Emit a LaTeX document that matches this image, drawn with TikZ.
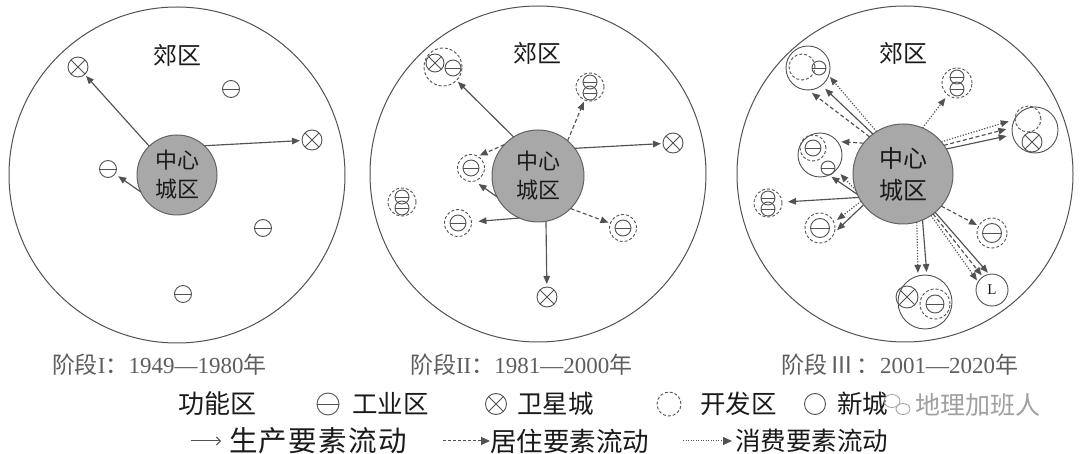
\documentclass[tikz,border=0pt]{standalone}
\usepackage{fontspec}
\setmainfont{Noto Sans CJK SC}
\newfontfamily\serifnum{Liberation Serif}
\usetikzlibrary{arrows.meta,shapes.geometric}
\definecolor{lc}{HTML}{525252}
\definecolor{cfill}{HTML}{A8A8A8}
\definecolor{capc}{HTML}{5E5E5E}
\definecolor{wm}{HTML}{A0A0A0}
\definecolor{txt}{HTML}{1A1A1A}
\newcommand{\lgap}{\kern1.5pt}
\begin{document}
\begin{tikzpicture}[x=1pt,y=-1pt,
  every node/.style={inner sep=0pt,outer sep=0pt,text=txt},
  bigring/.style={circle,draw=lc,line width=1pt,minimum size=336pt},
  cc/.style={circle,draw=lc!90,fill=cfill,line width=1pt,minimum size=#1,align=center},
  ind/.style={circle,draw=lc,line width=0.9pt,minimum size=#1,path picture={\draw[lc,line width=0.9pt] (path picture bounding box.west) -- (path picture bounding box.east);}},
  ind/.default=17pt,
  sat/.style={circle,draw=lc,line width=0.9pt,minimum size=#1,path picture={\draw[lc,line width=0.9pt] (path picture bounding box.north west) -- (path picture bounding box.south east) (path picture bounding box.north east) -- (path picture bounding box.south west);}},
  sat/.default=20pt,
  devz/.style={circle,draw=lc,line width=0.9pt,dash pattern=on 3pt off 2pt,minimum size=#1},
  newt/.style={circle,draw=lc,line width=0.9pt,minimum size=#1},
  flw/.style={draw=lc,line width=1.15pt,-{Triangle[length=8pt,width=6.5pt]},shorten >=2pt},
  prodflow/.style={flw},
  resflow/.style={flw,dash pattern=on 4pt off 2.5pt},
  consflow/.style={flw,dash pattern=on 1.2pt off 1.6pt},
  ctrtxt/.style={font=\fontsize{22}{29}\selectfont},
  subtxt/.style={font=\fontsize{24}{24}\selectfont},
  captxt/.style={anchor=west,text=capc,font=\fontsize{23}{23}\selectfont},
  legtxt/.style={anchor=west,font=\fontsize{25.5}{25.5}\selectfont}
]
\useasboundingbox[fill=white] (0,0) rectangle (1080,454);

% ---------------- Panel 1
\node[bigring] (B1) at (177,175) {};
\node[subtxt] (T1) at (177,55) {郊区};
\node[cc=80pt,ctrtxt] (c1) at (177,175) {中心\\城区};
\node[sat] (p1a) at (78,67) {};
\node[ind] (p1b) at (231,89) {};
\node[sat] (p1c) at (312,140) {};
\node[ind] (p1d) at (108,169) {};
\node[ind] (p1e) at (263,228) {};
\node[ind] (p1f) at (183,294) {};
\draw[prodflow] (c1.134) -- (p1a);
\draw[prodflow] (c1.47) -- (p1c);
\draw[prodflow,shorten >=4pt] (c1.205) -- (p1d);

% ---------------- Panel 2
\node[bigring] (B2) at (538,174) {};
\node[subtxt] (T2) at (537,53) {郊区};
\node[cc=92pt,ctrtxt] (c2) at (538,176) {中心\\城区};
\node[devz=38pt] (g2a) at (443,67) {};
\node[sat=18pt] (g2a1) at (435,63) {};
\node[ind=16pt] (g2a2) at (453,68) {};
\node[devz=28pt] (g2b) at (590,87) {};
\node[ind=14pt] (g2b1) at (590,82) {};
\node[ind=14pt] (g2b2) at (590,93) {};
\node[sat] (g2c) at (673,143) {};
\node[devz=27pt] (g2d) at (471,168) {};
\node[ind=16pt] (g2d1) at (471,168) {};
\node[devz=28pt] (g2e) at (402,202) {};
\node[ind=14pt] (g2e1) at (402,197) {};
\node[ind=14pt] (g2e2) at (402,208) {};
\node[devz=27pt] (g2f) at (458,223) {};
\node[ind=16pt] (g2f1) at (458,223) {};
\node[devz=27pt] (g2g) at (623,228) {};
\node[ind=16pt] (g2g1) at (623,228) {};
\node[sat] (g2h) at (547,297) {};
\draw[prodflow] (c2.122) -- (g2a);
\draw[resflow] (c2.50) -- (g2b);
\draw[prodflow] (c2.37) -- (g2c);
\draw[resflow] (c2.137) -- (g2d.60);
\draw[prodflow,shorten >=5pt] (c2.207) -- (g2d.-75);
\draw[prodflow,shorten >=7pt] (c2.246) -- (g2f);
\draw[resflow] (c2.315) -- (g2g);
\draw[prodflow,shorten >=3pt] (c2.280) -- (g2h);

% ---------------- Panel 3
\node[bigring] (B3) at (905,174) {};
\node[subtxt] (T3) at (903,53) {郊区};
\node[cc=100pt,font=\fontsize{24}{32}\selectfont] (c3) at (903,174) {中心\\城区};
% top-left group
\node[newt=44pt] (g3a) at (808,68) {};
\node[devz=26pt] (g3a1) at (802,67) {};
\node[ind=14pt] (g3a2) at (819,68) {};
% left group
\node[newt=44pt] (g3b) at (820,155) {};
\node[devz=26pt] (g3b1) at (813,148) {};
\node[ind=16pt] (g3b2) at (813,148) {};
\node[ind=14pt] (g3b3) at (828,168) {};
% far-left group
\node[devz=28pt] (g3c) at (768,203) {};
\node[ind=14pt] (g3c1) at (768,198) {};
\node[ind=14pt] (g3c2) at (768,209) {};
% lower-left group
\node[devz=30pt] (g3d) at (820,228) {};
\node[ind=19pt] (g3d1) at (820,228) {};
% top-right group
\node[devz=30pt] (g3e) at (957,83) {};
\node[ind=14pt] (g3e1) at (957,77) {};
\node[ind=14pt] (g3e2) at (957,89) {};
% right group
\node[newt=46pt] (g3f) at (1035,130) {};
\node[devz=26pt] (g3f1) at (1028,119) {};
\node[sat=20pt] (g3f2) at (1032,142) {};
% right-lower group
\node[devz=30pt] (g3g) at (992,233) {};
\node[ind=19pt] (g3g1) at (992,233) {};
% L
\node[newt=32pt,font=\serifnum\fontsize{15}{15}\selectfont] (g3l) at (992,290) {L};
% bottom group
\node[newt=54pt] (g3h) at (925,302) {};
\node[sat=22pt] (g3h1) at (907,297) {};
\node[devz=30pt] (g3h2) at (935,304) {};
\node[ind=18pt] (g3h3) at (935,304) {};

\draw[consflow] (c3.122) -- (g3a.-20);
\draw[prodflow,shorten >=5pt] (c3.127) -- (g3a.-52);
\draw[resflow,shorten >=5pt] (c3.132) -- (g3a.-90);
\draw[resflow,shorten >=4pt] (c3.142) -- (g3b.38);
\draw[prodflow,shorten >=3pt] (c3.204) -- (g3b.-66);
\draw[consflow,shorten >=6pt] (c3.199) -- (g3b.-42);
\draw[prodflow,shorten >=6pt] (c3.208) -- (g3c);
\draw[consflow,shorten >=4pt] (c3.213) -- (g3d.22);
\draw[prodflow,shorten >=4pt] (c3.218) -- (g3d.-19);
\draw[consflow,shorten >=4pt] (c3.67) -- (g3e);
\draw[consflow,shorten >=6pt] (c3.40) -- (g3f.153);
\draw[resflow,shorten >=6pt] (c3.35) -- (g3f.174);
\draw[prodflow,shorten >=6pt] (c3.30) -- (g3f.192);
\draw[resflow] (c3.-40) -- (g3g);
\draw[prodflow] (c3.-50) -- (g3l.100);
\draw[resflow] (c3.-53) -- (g3l.125);
\draw[consflow] (c3.-56) -- (g3l.150);
\draw[consflow,shorten >=3pt] (c3.-74) -- (g3h.105);
\draw[prodflow,shorten >=3pt] (c3.-67) -- (g3h.86);

% ---------------- captions
\node[captxt] (cap1) at (52,365) {阶段{\serifnum I}：{\serifnum 1949—1980}年};
\node[captxt] (cap2) at (410,365) {阶段{\serifnum II}：{\serifnum 1981—2000}年};
\node[captxt] (cap3) at (781,365) {阶段\kern4pt Ⅲ\kern3pt：{\serifnum 2001—2020}年};

% ---------------- legend row 1
\node[legtxt,font=\fontsize{26}{26}\selectfont] (l0) at (178,404) {功能区};
\node[ind=22pt] (l1s) at (328,404) {};
\node[legtxt] (l1) at (352,404) {工业区};
\node[sat=21pt] (l2s) at (496,404) {};
\node[legtxt] (l2) at (517,404) {卫星城};
\node[devz=24pt] (l3s) at (669,404) {};
\node[legtxt] (l3) at (700,404) {开发区};
\node[newt=21pt] (l4s) at (815,404) {};
\node[legtxt] (l4) at (837,404) {新城};
% watermark
\node[ellipse,draw=wm,line width=0.8pt,minimum width=16pt,minimum height=13pt] (wm1) at (892,401) {};
\node[ellipse,draw=wm,line width=0.8pt,fill=white,minimum width=14pt,minimum height=11pt] (wm2) at (903,409) {};
\node[legtxt,text=wm,font=\fontsize{25}{25}\selectfont] (wmt) at (915,405) {地理加班人};

% ---------------- legend row 2
\coordinate (a1s) at (191,441);
\coordinate (a1e) at (221,441);
\draw[lc,line width=1pt,-{Straight Barb[length=4pt,width=8pt]}] (a1s) -- (a1e);
\node[legtxt,font=\fontsize{28.5}{28.5}\selectfont] (l5) at (229,441) {生\lgap 产\lgap 要\lgap 素\lgap 流\lgap 动};
\coordinate (a2s) at (443,441);
\coordinate (a2e) at (490,441);
\draw[lc,line width=1pt,dash pattern=on 3pt off 2pt,-{Triangle[length=9pt,width=8pt]}] (a2s) -- (a2e);
\node[legtxt,font=\fontsize{26.5}{26.5}\selectfont] (l6) at (490,441) {居住要素流动};
\coordinate (a3s) at (683,441);
\coordinate (a3e) at (732,441);
\draw[lc,line width=1pt,dash pattern=on 1pt off 1.5pt,-{Triangle[length=9pt,width=8pt]}] (a3s) -- (a3e);
\node[legtxt] (l7) at (735,441) {消费要素流动};
\end{tikzpicture}
\end{document}
